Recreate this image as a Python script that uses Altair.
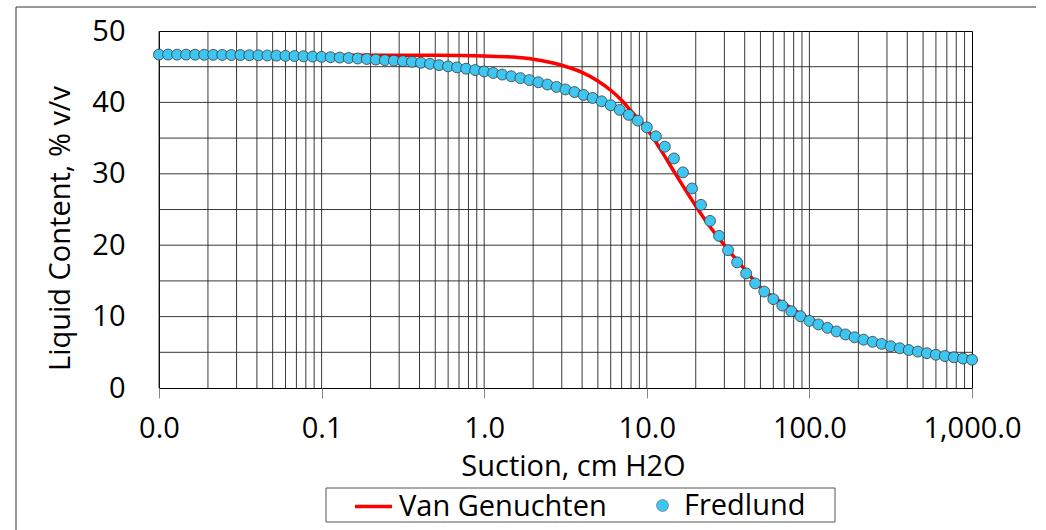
import altair as alt
import pandas as pd

# ---- data ----
MANTISSA = [1.000, 1.1365, 1.2915, 1.4678, 1.6681, 1.8957, 2.1544, 2.4484, 2.7826,
            3.1623, 3.5938, 4.0842, 4.6416, 5.2750, 5.9948, 6.8129, 7.7426, 8.7992]
DECADES = [0.01, 0.1, 1, 10, 100]
FREDLUND_Y = [
    46.70, 46.70, 46.69, 46.69, 46.68, 46.67, 46.66, 46.65, 46.64, 46.63,
    46.61, 46.59, 46.57, 46.55, 46.52, 46.49, 46.46, 46.42, 46.38, 46.33,
    46.28, 46.22, 46.15, 46.08, 46.00, 45.92, 45.85, 45.78, 45.68, 45.55,
    45.40, 45.22, 45.05, 44.90, 44.72, 44.53, 44.33, 44.12, 43.90, 43.66,
    43.40, 43.12, 42.82, 42.50, 42.17, 41.82, 41.45, 41.05, 40.62, 40.15,
    39.60, 38.95, 38.25, 37.45, 36.50, 35.25, 33.80, 32.15, 30.20, 27.95,
    25.65, 23.40, 21.30, 19.30, 17.60, 16.05, 14.65, 13.50, 12.45, 11.55,
    10.75, 10.05, 9.40, 8.90, 8.42, 7.92, 7.50, 7.10, 6.77, 6.47,
    6.18, 5.85, 5.57, 5.32, 5.10, 4.88, 4.66, 4.48, 4.30, 4.13, 3.96,
]
VG_X = [0.01, 0.1, 0.3, 0.5, 1, 1.5, 2, 3, 4, 5, 6, 7, 8, 10, 12, 15, 20, 25, 30,
        40, 50, 70, 100, 150, 200, 300, 500, 700, 1000]
VG_Y = [46.62, 46.62, 46.61, 46.60, 46.50, 46.35, 46.05, 45.2, 44.2, 43.0, 41.7,
        40.3, 38.8, 36.3, 33.6, 30.0, 25.5, 22.3, 20.0, 16.6, 14.1, 11.8, 9.7,
        8.1, 7.15, 6.1, 5.15, 4.7, 4.3]
X_TICKS = [0.01, 0.1, 1, 10, 100, 1000]
GRID_MULT = [1, 2, 3, 4, 5, 6, 7, 8, 9]
Y_LABELS = [0, 10, 20, 30, 40, 50]
Y_GRID = [5, 10, 15, 20, 25, 30, 35, 40, 45]

FONT = "Open Sans"
FS = 29
DOT = "#3EC6F2"

fred_x = [m * d for d in DECADES for m in MANTISSA] + [1000]
fred = pd.DataFrame({"x": fred_x, "y": FREDLUND_Y, "fd": "Fredlund"})
vg = pd.DataFrame({"x": VG_X, "y": VG_Y, "vgs": "Van Genuchten"})
gx = pd.DataFrame({"x": [m * d for d in DECADES for m in GRID_MULT]})
gy = pd.DataFrame({"y": Y_GRID})
one = pd.DataFrame({"a": [0]})

xscale = alt.Scale(type="log", domain=[0.01, 1000], nice=False)
yscale = alt.Scale(domain=[0, 50], nice=False)

xaxis = alt.Axis(values=X_TICKS, format=",.1f", grid=False, domain=False,
                 tickSize=10, tickColor="#888888", tickWidth=1,
                 labelPadding=16, labelFlush=False, labelOverlap=False, labelBound=False,
                 title="Suction, cm H2O", titleX=414, titleY=78,
                 titleAlign="center", titleBaseline="middle")
yaxis = alt.Axis(values=Y_LABELS, grid=False, domain=False, ticks=False, tickSize=0,
                 labelPadding=34, title="Liquid Content, % v/v",
                 titleX=-99, titleY=197, titleAngle=270,
                 titleAlign="center", titleBaseline="middle")

X = alt.X("x:Q", scale=xscale, axis=xaxis, title="Suction, cm H2O")
Y = alt.Y("y:Q", scale=yscale, axis=yaxis, title="Liquid Content, % v/v")

vgrid = alt.Chart(gx).mark_rule(color="#222222", strokeWidth=0.9).encode(x=X)
hgrid = alt.Chart(gy).mark_rule(color="#222222", strokeWidth=0.9).encode(y=Y)

line = alt.Chart(vg).mark_line(strokeWidth=3.5, interpolate="monotone").encode(
    x=X, y=Y,
    stroke=alt.Stroke("vgs:N", scale=alt.Scale(domain=["Van Genuchten"], range=["#FF0000"]),
                      legend=alt.Legend(title=None, orient="none", legendX=194, legendY=455,
                                        symbolType="stroke", symbolSize=1369,
                                        symbolStrokeWidth=3.5, labelOffset=5, labelLimit=400,
                                        labelFont=FONT, labelFontSize=FS, labelColor="#000000",
                                        padding=0)),
)

pts = alt.Chart(fred).mark_point(filled=True, size=120, opacity=1,
                                 stroke="#3a3a3a", strokeWidth=0.8).encode(
    x=X, y=Y,
    fill=alt.Fill("fd:N", scale=alt.Scale(domain=["Fredlund"], range=[DOT]),
                  legend=alt.Legend(title=None, orient="none", legendX=489, legendY=460,
                                    symbolType="circle", symbolSize=144,
                                    symbolStrokeColor="#666666", symbolStrokeWidth=0.6,
                                    labelOffset=7, labelLimit=400, labelFont=FONT, labelFontSize=FS,
                                    labelColor="#000000", padding=0)),
)

legend_box = alt.Chart(one).mark_rect(fill="white", stroke="#555555", strokeWidth=1).encode(
    x=alt.value(167), x2=alt.value(676), y=alt.value(457), y2=alt.value(491))

frame_top = alt.Chart(one).mark_rule(color="#333333", strokeWidth=1).encode(
    x=alt.value(-143), x2=alt.value(877), y=alt.value(-24))
frame_left = alt.Chart(one).mark_rule(color="#333333", strokeWidth=1).encode(
    x=alt.value(-143), y=alt.value(-24), y2=alt.value(499))

chart = alt.layer(vgrid, hgrid, line, pts, legend_box, frame_top, frame_left).resolve_scale(
    x="shared", y="shared"
).properties(
    width=813, height=357,
    autosize=alt.AutoSizeParams(type="none"),
    padding={"left": 159, "top": 31, "right": 74, "bottom": 142},
    background="white",
).configure_view(
    stroke="black", strokeWidth=1
).configure_axis(
    labelFont=FONT, labelFontSize=FS, labelColor="#000000",
    titleFont=FONT, titleFontSize=FS, titleColor="#000000", titleFontWeight="normal",
)

chart.save("out.html", embed_options={"renderer": "svg", "actions": False})
